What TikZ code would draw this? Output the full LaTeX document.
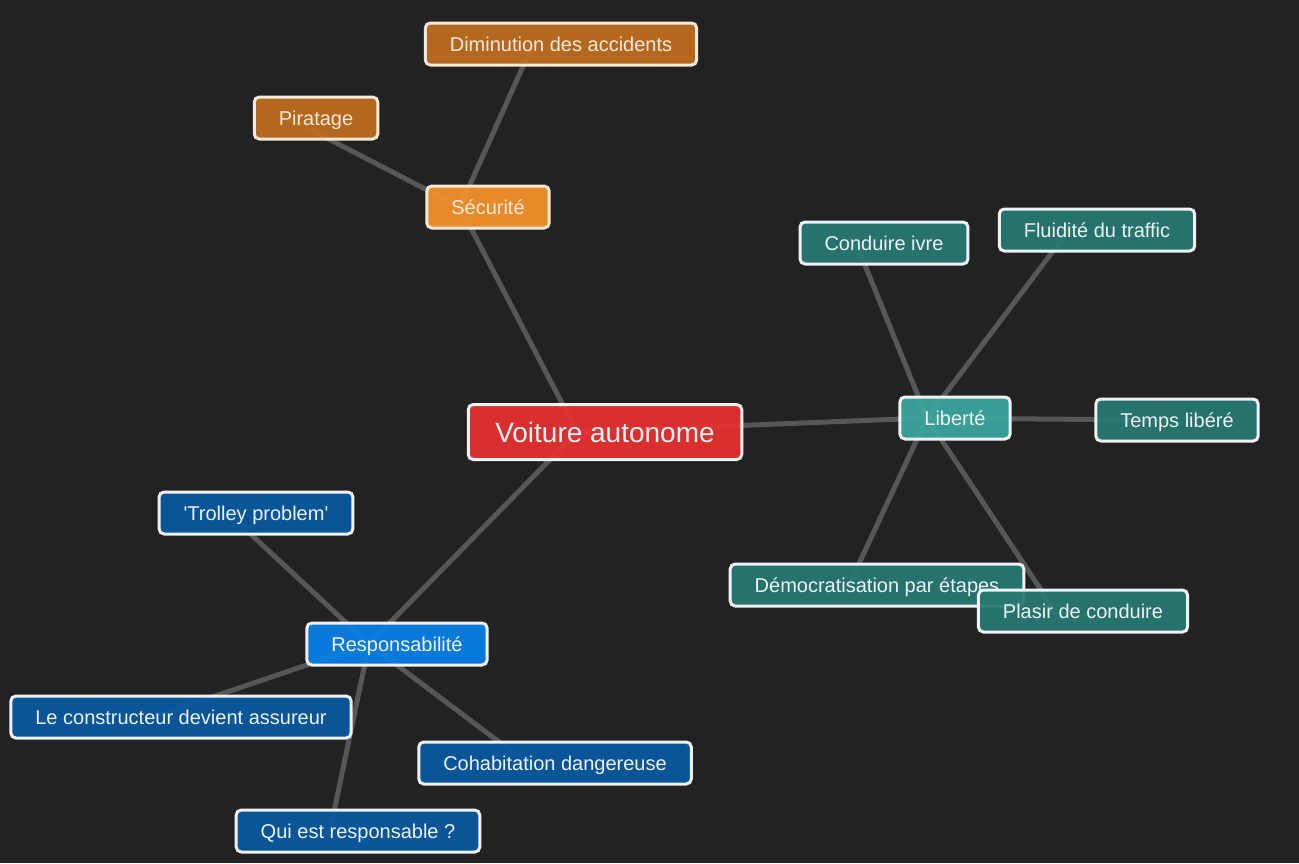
\documentclass[tikz,border=0pt]{standalone}
\usepackage{fontspec}
\setmainfont{Liberation Sans}[Ligatures=TeXOff]
\usetikzlibrary{backgrounds}

\definecolor{bgdark}{HTML}{222222}
\definecolor{linkgray}{HTML}{575757}
\definecolor{rootred}{HTML}{E73131}
\definecolor{secorange}{HTML}{F7922B}
\definecolor{secleaf}{HTML}{C06E1F}
\definecolor{libteal}{HTML}{39A79F}
\definecolor{libleaf}{HTML}{277972}
\definecolor{respblue}{HTML}{0881E7}
\definecolor{respleaf}{HTML}{0859A2}
\definecolor{rimcream}{HTML}{F7E9DA}
\definecolor{rimlight}{HTML}{EEF2F4}

\begin{document}
\begin{tikzpicture}[
  x=1pt,y=-1pt,
  box/.style={draw=rimlight,text=rimlight,line width=3pt,rounded corners=5pt,
    fill opacity=0.93,text opacity=1,minimum height=42pt,inner xsep=24.5pt,
    inner ysep=0pt,text height=18pt,text depth=4pt,font=\fontsize{20}{24}\selectfont},
  root/.style={box,fill=rootred,minimum height=55pt,inner xsep=27pt,
    text height=26pt,text depth=6pt,font=\fontsize{28}{34}\selectfont},
  secbox/.style={box,fill=secorange,draw=rimcream,text=rimcream},
  secitem/.style={box,fill=secleaf,draw=rimcream,text=rimcream},
  libbox/.style={box,fill=libteal},
  libitem/.style={box,fill=libleaf},
  respbox/.style={box,fill=respblue},
  respitem/.style={box,fill=respleaf},
  every edge/.style={draw=linkgray,line width=5pt},
]
  \useasboundingbox (0,0) rectangle (1299,863);

  % Centre
  \node[root] (voit) at (605,432) {Voiture autonome};

  % Sécurité
  \node[secbox] (secu) at (488,207) {Sécurité};
  \node[secitem] (dimi) at (561,44) {Diminution des accidents};
  \node[secitem] (pira) at (316,118) {Piratage};

  % Liberté
  \node[libbox] (libe) at (955,418) {Liberté};
  \node[libitem] (cond) at (884,243) {Conduire ivre};
  \node[libitem] (flui) at (1097,230) {Fluidité du traffic};
  \node[libitem] (temp) at (1177,420) {Temps libéré};
  \node[libitem] (demo) at (877,585) {Démocratisation par étapes};
  \node[libitem] (plas) at (1083,611) {Plasir de conduire};

  % Responsabilité
  \node[respbox] (resp) at (397,644) {Responsabilité};
  \node[respitem] (trol) at (256,513) {'Trolley problem'};
  \node[respitem] (cons) at (181,717) {Le constructeur devient assureur};
  \node[respitem] (cohab) at (555,763) {Cohabitation dangereuse};
  \node[respitem] (qui) at (358,831) {Qui est responsable ?};

  \begin{scope}[on background layer]
    \fill[bgdark] (0,0) rectangle (1299,863);

    % Edges: centre
    \path ([xshift=-28pt]voit.center) edge ([xshift=-28pt]secu.center);
    \path ([xshift=-28pt]voit.center) edge ([xshift=-28pt]libe.center);
    \path ([xshift=-28pt]voit.center) edge ([xshift=-28pt]resp.center);

    % Edges: sécurité
    \path ([xshift=-28pt]secu.center) edge ([xshift=-28pt]dimi.center);
    \path ([xshift=-28pt]secu.center) edge ([xshift=-28pt]pira.center);

    % Edges: liberté
    \path ([xshift=-28pt]libe.center) edge ([xshift=-28pt]cond.center);
    \path ([xshift=-28pt]libe.center) edge ([xshift=-28pt]flui.center);
    \path ([xshift=-28pt]libe.center) edge ([xshift=-28pt]temp.center);
    \path ([xshift=-28pt]libe.center) edge ([xshift=-28pt]demo.center);
    \path ([xshift=-28pt]libe.center) edge ([xshift=-28pt]plas.center);

    % Edges: responsabilité
    \path ([xshift=-28pt]resp.center) edge ([xshift=-28pt]trol.center);
    \path ([xshift=-28pt]resp.center) edge ([xshift=-28pt]cons.center);
    \path ([xshift=-28pt]resp.center) edge ([xshift=-28pt]cohab.center);
    \path ([xshift=-28pt]resp.center) edge ([xshift=-28pt]qui.center);
  \end{scope}
\end{tikzpicture}
\end{document}
